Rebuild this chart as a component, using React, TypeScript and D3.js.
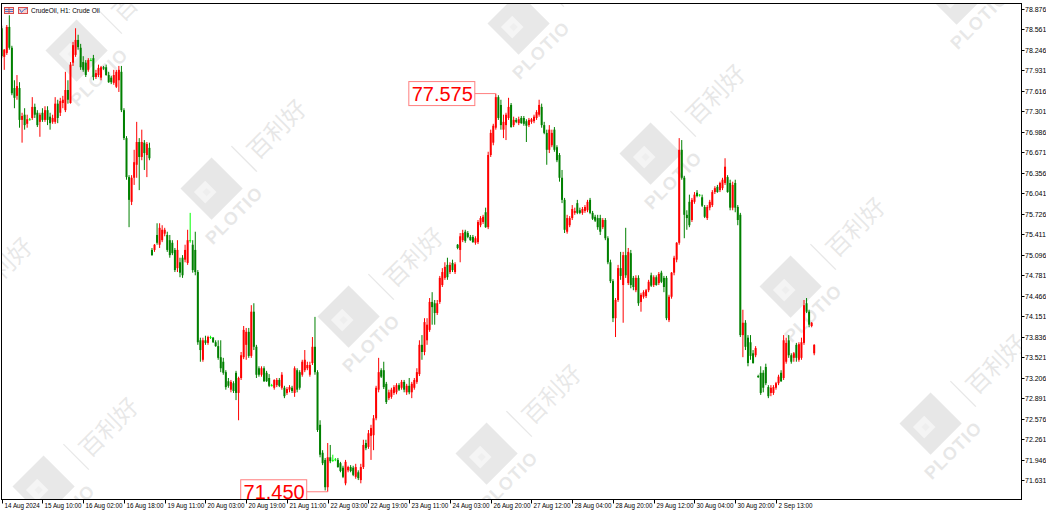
import React from "react";
import * as d3 from "d3";

// ---------- data (CrudeOil H1) ----------
const timeLabels = [
  "14 Aug 2024", "15 Aug 10:00", "16 Aug 02:00", "16 Aug 18:00", "19 Aug 11:00",
  "20 Aug 03:00", "20 Aug 19:00", "21 Aug 11:00", "22 Aug 03:00", "22 Aug 19:00",
  "23 Aug 11:00", "24 Aug 03:00", "26 Aug 20:00", "27 Aug 12:00", "28 Aug 04:00",
  "28 Aug 20:00", "29 Aug 12:00", "30 Aug 04:00", "30 Aug 20:00", "2 Sep 13:00",
];
const barsPerTimeLabel = 16;

const priceTicks = [
  "78.876", "78.561", "78.246", "77.931", "77.616", "77.301", "76.986", "76.671",
  "76.356", "76.041", "75.726", "75.411", "75.096", "74.781", "74.466", "74.151",
  "73.836", "73.521", "73.206", "72.891", "72.576", "72.261", "71.946", "71.631",
];

const open = [
  78.58,78.14,78.20,78.60,78.28,77.66,77.54,77.66,77.17,77.25,
  77.11,77.18,77.20,77.37,77.28,77.14,77.28,77.17,77.32,77.22,
  77.14,77.14,77.42,77.28,77.43,77.32,77.63,77.43,78.05,78.17,
  78.40,78.28,78.06,78.05,77.94,78.09,78.12,77.83,77.86,77.82,
  77.98,77.98,77.86,77.82,77.74,77.68,77.78,77.91,77.32,76.89,
  76.29,75.91,76.28,76.48,76.83,76.60,76.82,76.63,76.74,75.17,
  75.17,75.40,75.25,75.32,75.42,75.40,75.32,75.28,75.17,74.89,
  74.98,75.05,75.02,74.97,75.32,75.25,75.17,74.83,73.78,73.48,
  73.78,73.74,73.83,73.82,73.75,73.69,73.52,73.45,73.29,73.15,
  73.02,73.12,73.28,72.97,73.20,73.52,73.71,73.91,73.54,74.22,
  73.68,73.35,73.25,73.35,73.28,73.20,73.09,73.05,73.09,73.17,
  73.05,73.05,72.97,73.02,73.05,72.97,73.32,73.29,73.25,73.32,
  73.35,73.25,73.43,73.68,73.29,72.48,72.05,71.94,71.52,71.98,
  71.94,71.95,71.94,71.89,71.82,71.58,71.78,71.83,71.82,71.68,
  71.75,71.63,71.83,72.20,72.14,72.31,72.32,72.58,73.02,73.32,
  73.32,73.11,72.89,72.91,72.97,72.98,73.09,73.05,73.14,72.98,
  73.08,72.98,73.05,73.14,73.26,73.71,73.60,73.78,73.94,74.37,
  74.35,74.20,74.37,74.63,74.74,74.94,74.83,74.97,74.83,75.25,
  75.17,75.32,75.45,75.43,75.37,75.37,75.28,75.29,75.55,75.60,
  75.75,75.52,76.63,76.82,77.05,77.52,77.40,77.02,77.09,77.20,
  77.40,77.09,77.17,77.12,77.20,77.20,77.15,77.09,77.14,77.15,
  77.20,77.25,77.37,77.09,76.97,76.71,76.78,77.02,76.75,76.63,
  76.28,75.94,75.45,75.55,75.66,75.74,75.89,75.78,75.74,75.77,
  75.78,75.94,75.74,75.68,75.66,75.66,75.52,75.63,75.35,74.98,
  74.69,74.12,74.40,74.89,74.63,75.09,74.66,75.12,74.74,74.55,
  74.74,74.37,74.45,74.46,74.55,74.78,74.63,74.75,74.66,74.82,
  74.74,74.74,74.09,74.45,74.82,75.02,75.28,76.71,76.28,75.71,
  75.91,75.63,75.91,76.05,76.02,75.98,75.83,75.66,75.82,75.86,
  76.06,76.14,76.09,76.12,76.20,76.29,76.20,75.82,76.20,75.83,
  75.71,73.86,74.05,73.82,73.75,73.58,73.55,73.23,73.28,73.28,
  73.37,73.06,72.97,72.97,73.05,73.12,73.28,73.20,73.45,73.78,
  73.55,73.51,73.71,73.48,73.51,73.74,74.35,74.22,74.00,73.58,
];
const high = [
  78.62,78.26,78.63,78.78,78.31,77.78,77.86,77.75,77.28,77.35,
  77.25,77.20,77.52,77.42,77.32,77.28,77.35,77.38,77.38,77.28,
  77.25,77.52,77.48,77.51,77.54,77.91,77.78,78.06,78.37,78.58,
  78.48,78.34,78.15,78.09,78.12,78.12,78.17,77.94,78.02,78.00,
  78.00,78.02,77.91,77.85,77.94,77.94,78.00,78.00,77.35,76.92,
  76.32,76.32,76.71,77.14,76.89,77.02,76.86,76.83,76.82,75.20,
  75.26,75.58,75.58,75.55,75.51,75.45,75.40,75.32,75.20,75.32,
  75.05,75.09,75.25,75.48,75.74,75.32,75.45,74.86,73.82,73.82,
  73.85,73.85,73.85,73.83,73.78,73.78,73.78,73.51,73.32,73.20,
  73.17,73.15,73.31,73.22,73.60,74.00,73.97,73.97,74.32,74.35,
  73.71,73.38,73.38,73.38,73.31,73.26,73.11,73.18,73.20,73.20,
  73.29,73.08,73.06,73.09,73.08,73.38,73.35,73.32,73.48,73.63,
  73.45,73.45,73.83,74.14,73.32,72.55,72.09,71.97,72.20,72.17,
  72.02,71.97,71.97,71.91,71.85,71.94,71.85,71.86,71.85,71.88,
  71.78,71.88,72.25,72.25,72.40,72.48,72.63,73.08,73.51,73.35,
  73.45,73.14,73.02,73.05,73.09,73.12,73.12,73.17,73.17,73.11,
  73.20,73.14,73.20,73.35,73.78,73.86,74.12,74.12,74.43,74.52,
  74.40,74.40,74.77,74.89,74.98,75.05,74.98,75.02,74.98,75.26,
  75.43,75.48,75.48,75.46,75.40,75.40,75.38,75.63,75.69,75.71,
  75.82,76.68,77.02,77.11,77.575,77.55,77.48,77.25,77.28,77.51,
  77.43,77.22,77.20,77.22,77.23,77.23,77.18,77.20,77.20,77.25,
  77.32,77.48,77.42,77.14,77.02,77.09,77.02,77.06,76.78,76.66,
  76.40,75.97,75.71,75.69,75.86,75.82,75.94,75.82,75.83,75.86,
  75.94,75.97,75.77,75.71,75.71,75.71,75.66,75.66,75.38,75.02,
  74.72,74.43,74.94,75.14,75.14,75.51,75.20,75.17,74.77,74.78,
  74.78,74.51,74.55,74.57,74.71,74.82,74.78,74.78,74.83,74.85,
  74.77,74.77,74.48,74.83,75.08,75.29,76.89,76.86,76.31,75.78,
  76.02,75.97,76.06,76.09,76.03,76.02,75.86,75.86,75.94,76.09,
  76.15,76.17,76.22,76.28,76.58,76.32,76.25,76.22,76.25,75.86,
  75.74,74.25,74.09,73.86,73.86,73.63,73.69,73.25,73.38,73.32,
  73.42,73.09,73.09,73.09,73.14,73.25,73.32,73.86,73.82,73.86,
  73.58,73.60,73.74,73.75,73.82,74.40,74.43,74.25,74.06,73.72,
];
const low = [
  78.12,77.94,78.17,78.25,77.55,77.35,77.48,77.05,76.82,77.02,
  77.05,77.16,77.17,77.20,77.06,76.91,77.14,77.14,77.09,77.02,
  77.11,77.11,77.12,77.23,77.35,77.29,77.42,77.42,78.00,78.14,
  78.25,77.94,77.91,77.83,77.91,78.08,77.78,77.80,77.83,77.78,
  77.94,77.85,77.74,77.72,77.71,77.66,77.60,77.29,76.86,76.25,
  75.52,75.86,76.17,76.28,76.09,76.55,76.40,76.29,76.55,75.08,
  75.14,75.25,75.20,75.29,75.38,75.14,75.05,75.09,74.83,74.83,
  74.75,74.74,74.98,74.94,75.28,74.82,74.78,73.71,73.45,73.45,
  73.71,73.71,73.80,73.74,73.68,73.48,73.29,73.25,73.02,73.05,
  72.98,72.97,72.86,72.55,73.17,73.49,73.48,73.51,73.51,73.63,
  73.20,73.22,73.22,73.14,73.14,73.06,73.07,73.02,73.06,73.06,
  73.02,72.89,72.94,72.98,72.97,72.91,72.98,73.02,73.22,73.29,
  73.32,73.22,73.40,73.25,72.37,71.98,71.86,71.47,71.45,71.89,
  71.91,71.92,71.82,71.75,71.66,71.55,71.75,71.75,71.69,71.65,
  71.63,71.58,71.80,72.09,72.11,71.94,72.09,72.55,72.98,73.20,
  73.03,72.80,72.86,72.88,72.94,72.95,73.00,73.02,72.98,72.94,
  72.95,72.89,73.02,73.11,73.23,73.48,73.55,73.71,73.91,74.02,
  74.02,74.17,74.34,74.60,74.71,74.71,74.80,74.83,74.80,75.18,
  74.98,75.29,75.28,75.35,75.31,75.28,75.25,75.26,75.52,75.57,
  75.51,75.49,76.60,76.78,77.02,77.17,77.02,76.89,76.86,77.17,
  77.05,77.06,77.12,77.09,77.11,77.08,76.83,77.06,77.11,77.12,
  77.17,77.22,77.05,76.95,76.48,76.66,76.75,76.68,76.52,76.22,
  75.89,75.43,75.42,75.52,75.63,75.71,75.72,75.72,75.71,75.74,
  75.75,75.72,75.63,75.60,75.48,75.40,75.49,75.32,74.95,74.66,
  74.06,73.83,74.37,74.71,74.05,74.74,74.63,74.58,74.55,74.52,
  74.31,74.22,74.42,74.43,74.52,74.60,74.60,74.62,74.63,74.66,
  74.52,74.09,74.06,74.42,74.78,74.98,75.25,76.25,75.35,75.48,
  75.52,75.60,75.88,75.98,75.99,75.83,75.66,75.63,75.78,75.83,
  76.03,76.05,76.06,76.09,76.17,76.05,75.78,75.78,75.75,75.55,
  73.83,73.52,73.63,73.38,73.48,73.42,73.52,73.20,72.94,72.98,
  73.09,72.89,72.92,72.94,73.02,73.09,73.14,73.17,73.42,73.51,
  73.42,73.45,73.45,73.45,73.48,73.71,74.20,73.98,73.98,73.55,
];
const close = [
  78.15,78.25,78.60,78.28,77.58,77.51,77.69,77.17,77.23,77.09,
  77.18,77.18,77.37,77.25,77.09,77.25,77.17,77.32,77.17,77.12,
  77.20,77.42,77.20,77.46,77.48,77.63,77.48,78.02,78.32,78.40,
  78.29,77.98,77.94,77.86,78.09,78.09,77.83,77.89,77.97,77.98,
  77.96,77.86,77.75,77.75,77.86,77.91,77.94,77.32,76.89,76.29,
  75.94,76.28,76.52,76.83,76.60,76.83,76.66,76.80,76.58,75.09,
  75.25,75.28,75.51,75.48,75.48,75.17,75.09,75.12,74.86,75.17,
  74.82,74.78,75.17,75.32,75.32,74.86,74.83,73.75,73.63,73.78,
  73.74,73.83,73.83,73.75,73.69,73.51,73.35,73.28,73.06,73.08,
  73.14,73.00,72.97,73.20,73.55,73.94,73.91,73.54,74.22,73.68,
  73.25,73.25,73.35,73.15,73.15,73.08,73.09,73.17,73.17,73.08,
  73.25,72.92,73.03,73.06,73.00,73.35,73.02,73.05,73.45,73.48,
  73.40,73.40,73.68,73.29,72.40,72.02,71.89,71.52,71.98,71.92,
  71.94,71.95,71.83,71.77,71.68,71.91,71.83,71.77,71.71,71.83,
  71.66,71.83,72.17,72.12,72.35,72.43,72.58,73.05,73.29,73.22,
  73.06,72.83,72.98,73.02,73.06,73.09,73.02,73.14,73.02,73.08,
  72.98,73.11,73.17,73.29,73.71,73.60,74.06,74.02,74.37,74.29,
  74.20,74.35,74.74,74.83,74.91,74.75,74.94,74.86,74.95,75.20,
  75.38,75.43,75.31,75.37,75.32,75.29,75.35,75.60,75.66,75.68,
  75.52,76.63,76.97,77.08,77.52,77.20,77.09,77.14,77.25,77.37,
  77.06,77.17,77.14,77.18,77.12,77.11,77.08,77.17,77.18,77.22,
  77.29,77.40,77.09,76.97,76.71,77.02,76.97,76.71,76.55,76.28,
  75.94,75.48,75.66,75.66,75.80,75.77,75.74,75.74,75.80,75.83,
  75.91,75.74,75.65,75.62,75.52,75.45,75.63,75.35,74.98,74.69,
  74.12,74.40,74.89,74.77,75.09,74.78,75.14,74.63,74.60,74.74,
  74.35,74.48,74.52,74.55,74.68,74.62,74.75,74.63,74.80,74.68,
  74.60,74.12,74.45,74.82,75.05,75.28,76.71,76.28,75.71,75.66,
  75.55,75.94,76.02,76.00,76.02,75.85,75.68,75.83,75.91,76.06,
  76.12,76.06,76.20,76.25,76.45,76.06,75.82,76.17,75.82,75.63,
  73.86,74.05,73.68,73.43,73.54,73.43,73.66,73.22,72.97,73.05,
  73.12,72.92,73.05,73.06,73.12,73.22,73.15,73.78,73.74,73.55,
  73.45,73.58,73.51,73.72,73.75,74.32,74.22,74.02,74.05,73.71,
];

// labelled swing points: bar index + which price
const swingLabels = [
  { bar: 194, kind: "high" },
  { bar: 128, kind: "low" },
];

// ---------- layout ----------
const W = 1046;
const H = 511;
const PL = 1.5, PT = 3.5, PR = 1021.5, PB = 499.5;
const FONT = "'Liberation Sans', Arial, Helvetica, sans-serif";
const UP = "#ff0000";
const DOWN = "#008000";
const DOJI = "#00ff00";

const watermarkSpots: [number, number][] = [
  [78, 52], [213, 190], [350, 318], [488, 455],
  [520, 25], [652, 155], [792, 288], [932, 425],
  [958, -5], [45, 488], [-61, 328],
];

function Watermark({ cx, cy }: { cx: number; cy: number }) {
  return (
    <g transform={`translate(${cx},${cy}) rotate(-45)`} opacity={0.09}>
      <rect x={-22} y={-24} width={44} height={44} fill="#000" />
      <rect x={-15} y={-12} width={16} height={16} fill="#fff" opacity={0.55} />
      <rect x={-9} y={-6} width={6} height={6} fill="#000" opacity={0.4} />
      <text x={-3} y={39} textAnchor="middle" fontSize={18} fontWeight="bold"
        fontFamily={FONT} fill="#000" letterSpacing={1}>PLOTIO</text>
      <line x1={44} y1={-18} x2={44} y2={18} stroke="#000" strokeWidth={1.3} />
      <text x={88} y={11} textAnchor="middle" fontSize={24}
        fontFamily="'Noto Sans CJK SC', sans-serif" fill="#000">百利好</text>
    </g>
  );
}

export default function App() {
  const n = open.length;
  const x = d3.scaleLinear().domain([0, n - 1]).range([1.7, 1.7 + 2.547 * (n - 1)]);
  const y = d3.scaleLinear().domain([71.631, 78.876]).range([480, 9]);

  const candles = d3.range(n).map((i) => {
    const o = open[i], c = close[i];
    const h = Math.max(high[i], o, c), l = Math.min(low[i], o, c);
    const col = c > o ? UP : c < o ? DOWN : DOJI;
    const cx = x(i);
    const top = y(Math.max(o, c));
    const bot = y(Math.min(o, c));
    return (
      <g key={i}>
        <line x1={cx} x2={cx} y1={y(h)} y2={y(l)} stroke={col} strokeWidth={1} />
        <rect x={cx - 1} y={top} width={2} height={Math.max(bot - top, 1)} fill={col} />
      </g>
    );
  });

  const markers = swingLabels.map((s, k) => {
    const v = s.kind === "high" ? high[s.bar] : low[s.bar];
    const px = x(s.bar);
    const py = y(v);
    const bw = 66, bh = 24;
    const right = px - 21;
    return (
      <g key={k}>
        <line x1={right} x2={px} y1={py} y2={py} stroke="#ff7f7f" strokeWidth={1} />
        <rect x={right - bw} y={py - bh / 2} width={bw} height={bh}
          fill="#fff" stroke="#ff7f7f" strokeWidth={1} />
        <text x={right - 2} y={py + 7.5} textAnchor="end" fontSize={20}
          fontFamily={FONT} fill="#ff0000">{v.toFixed(3)}</text>
      </g>
    );
  });

  return (
    <svg width={W} height={H} style={{ position: "absolute", left: 0, top: 0, display: "block" }}>
      <rect x={0} y={0} width={W} height={H} fill="#fff" />
      <defs>
        <clipPath id="plotArea">
          <rect x={PL} y={PT} width={PR - PL} height={PB - PT} />
        </clipPath>
      </defs>
      <g clipPath="url(#plotArea)">
        {watermarkSpots.map(([a, b], i) => <Watermark key={i} cx={a} cy={b} />)}
        {candles}
        {markers}
      </g>

      {/* frame */}
      <rect x={PL} y={PT} width={PR - PL} height={PB - PT} fill="none" stroke="#000" strokeWidth={1} />

      {/* price axis */}
      {priceTicks.map((t, i) => {
        const py = Math.round(y(+t)) + 0.5;
        return (
          <g key={i}>
            <line x1={PR} x2={PR + 3} y1={py} y2={py} stroke="#000" strokeWidth={1} />
            <text x={PR + 3.5} y={py + 2.5} fontSize={7} fontFamily={FONT} fill="#000">{t}</text>
          </g>
        );
      })}

      {/* time axis */}
      {timeLabels.map((t, i) => {
        const tx = Math.round(x(i * barsPerTimeLabel)) + 0.5;
        return (
          <g key={i}>
            <line x1={tx} x2={tx} y1={PB} y2={PB + 4} stroke="#000" strokeWidth={1} />
            <text x={tx + 2} y={PB + 8.5} fontSize={6.3} fontFamily={FONT} fill="#000">{t}</text>
          </g>
        );
      })}

      {/* header */}
      <g>
        <rect x={4.5} y={7.5} width={9} height={6} fill="#f6d0d0" stroke="#d84a4a" strokeWidth={1} />
        <line x1={5} x2={13} y1={9.5} y2={9.5} stroke="#4a78c8" strokeWidth={1} />
        <line x1={5} x2={13} y1={11.5} y2={11.5} stroke="#4a78c8" strokeWidth={1} />
        <line x1={9} x2={9} y1={8} y2={13} stroke="#d84a4a" strokeWidth={1} />
        <rect x={18.5} y={7.5} width={9} height={6} fill="#f6d0d0" stroke="#d84a4a" strokeWidth={1} />
        <polyline points="19.5,9 21.5,12.5 24,9.5 27,8.5" fill="none" stroke="#4a78c8" strokeWidth={1} />
        <text x={31} y={13} fontSize={6.5} fontFamily={FONT} fill="#000">CrudeOil, H1:  Crude Oil</text>
      </g>
    </svg>
  );
}
